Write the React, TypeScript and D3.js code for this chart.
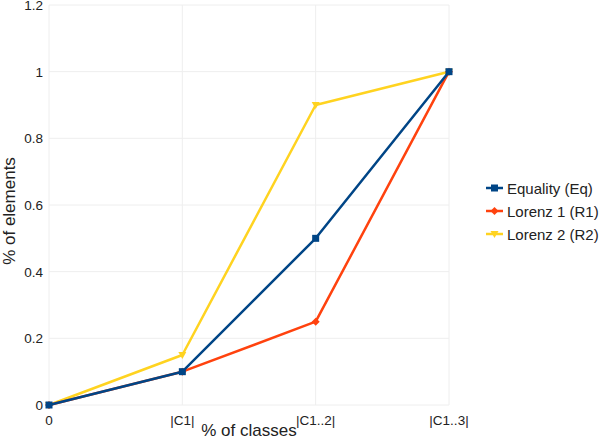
import React from 'react';
import * as d3 from 'd3';

const categories = ['0', '|C1|', '|C1..2|', '|C1..3|'];
const equality = [0, 0.1, 0.5, 1];
const lorenz1 = [0, 0.1, 0.25, 1];
const lorenz2 = [0, 0.15, 0.9, 1];
const yTicks = [0, 0.2, 0.4, 0.6, 0.8, 1, 1.2];

const series = [
  { name: 'Lorenz 2 (R2)', values: lorenz2, color: '#ffd320', symbol: 'tri' },
  { name: 'Lorenz 1 (R1)', values: lorenz1, color: '#ff420e', symbol: 'diamond' },
  { name: 'Equality (Eq)', values: equality, color: '#004586', symbol: 'square' },
];
const legendOrder = [2, 1, 0];

const font = '"Liberation Sans", Arial, sans-serif';

function Marker({ type, x, y, color }) {
  if (type === 'square') {
    return <rect x={x - 3.5} y={y - 3.5} width={7} height={7} fill={color} />;
  }
  if (type === 'diamond') {
    return <path d={`M${x},${y - 4}L${x + 4},${y}L${x},${y + 4}L${x - 4},${y}Z`} fill={color} />;
  }
  return <path d={`M${x - 4},${y - 3}L${x + 4},${y - 3}L${x},${y + 4}Z`} fill={color} />;
}

export default function App() {
  // plot area
  const margin = { top: 5, left: 49 };
  const width = 400;
  const height = 400;

  const x = d3.scalePoint().domain(categories).range([margin.left, margin.left + width]);
  const y = d3.scaleLinear().domain([0, 1.2]).range([margin.top + height, margin.top]);

  const line = d3
    .line<number>()
    .x((d, i) => x(categories[i]))
    .y((d) => y(d));

  return (
    <svg width={600} height={439} style={{ position: 'absolute', left: 0, top: 0 }}>
      <rect width={600} height={439} fill="#fff" />
      {yTicks.map((t) => (
        <g key={'y' + t}>
          <line x1={margin.left} x2={margin.left + width} y1={y(t)} y2={y(t)} stroke="#eeeeee" />
          <text x={margin.left - 6} y={y(t) + 5} textAnchor="end" fontFamily={font} fontSize={13.5} fill="#222">
            {t}
          </text>
        </g>
      ))}
      {categories.map((c) => (
        <g key={'x' + c}>
          <line x1={x(c)} x2={x(c)} y1={margin.top} y2={margin.top + height} stroke="#eeeeee" />
          <text x={x(c)} y={425} textAnchor="middle" fontFamily={font} fontSize={13.5} fill="#222">
            {c}
          </text>
        </g>
      ))}
      {series.map((s) => (
        <g key={s.name}>
          <path d={line(s.values)} fill="none" stroke={s.color} strokeWidth={2.5} strokeLinejoin="round" />
          {s.values.map((v, i) => (
            <Marker key={i} type={s.symbol} x={x(categories[i])} y={y(v)} color={s.color} />
          ))}
        </g>
      ))}
      <text x={249} y={436} textAnchor="middle" fontFamily={font} fontSize={17} fill="#222">
        % of classes
      </text>
      <text
        transform={`translate(15,${211}) rotate(-90)`}
        textAnchor="middle"
        fontFamily={font}
        fontSize={17}
        fill="#222"
      >
        % of elements
      </text>
      {legendOrder.map((idx, i) => {
        const s = series[idx];
        const ly = 188 + i * 23;
        return (
          <g key={'l' + s.name}>
            <line x1={486} x2={503} y1={ly} y2={ly} stroke={s.color} strokeWidth={2.5} />
            <Marker type={s.symbol} x={494.5} y={ly} color={s.color} />
            <text x={507} y={ly + 5.5} fontFamily={font} fontSize={15} fill="#222">
              {s.name}
            </text>
          </g>
        );
      })}
    </svg>
  );
}
